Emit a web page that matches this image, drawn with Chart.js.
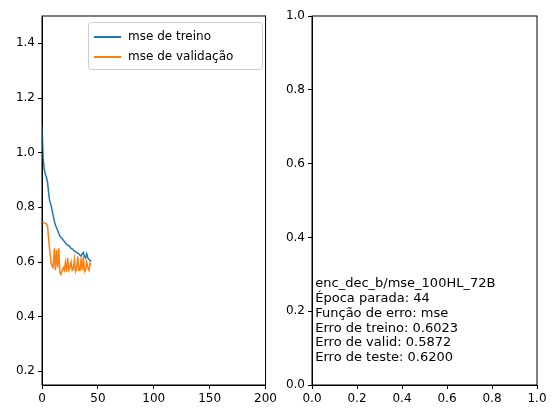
<!DOCTYPE html><html><head><script src="https://cdn.jsdelivr.net/npm/chart.js@4"></script>
<style>body{margin:0;background:#fff}#a{position:absolute;left:0;top:0}#b{position:absolute;left:280px;top:0}</style></head><body>
<div id="a" style="width:280px;height:418px"><canvas id="c1"></canvas></div>
<div id="b" style="width:278px;height:418px"><canvas id="c2"></canvas></div>
<script>
const epochs=[...Array(45).keys()];
const train=[1.10,0.98,0.94,0.92,0.91,0.89,0.85,0.82,0.81,0.79,0.77,0.75,0.735,0.725,0.715,0.705,0.695,0.69,0.685,0.68,0.675,0.67,0.665,0.66,0.66,0.655,0.65,0.648,0.645,0.64,0.638,0.635,0.632,0.63,0.625,0.622,0.63,0.635,0.62,0.615,0.63,0.615,0.61,0.605,0.602];
const valid=[0.745,0.745,0.743,0.742,0.74,0.73,0.68,0.64,0.60,0.585,0.58,0.65,0.57,0.645,0.58,0.65,0.56,0.555,0.57,0.58,0.57,0.60,0.565,0.615,0.57,0.58,0.60,0.57,0.575,0.61,0.565,0.575,0.62,0.57,0.57,0.61,0.57,0.62,0.565,0.57,0.60,0.58,0.57,0.595,0.59];
const textLines=["enc_dec_b/mse_100HL_72B","Época parada: 44","Função de erro: mse","Erro de treino: 0.6023","Erro de valid: 0.5872","Erro de teste: 0.6200"];
const legendItems=[["mse de treino","#1f77b4"],["mse de validação","#ff7f0e"]];
Chart.defaults.font.family="DejaVu Sans";Chart.defaults.font.size=12;Chart.defaults.color="#000";
const ax=(min,max,ticksArr,fix,dec)=>({type:'linear',min,max,afterFit:fix,afterBuildTicks:s=>{s.ticks=ticksArr.map(v=>({value:v}))},
 grid:{display:true,drawOnChartArea:false,tickLength:4,color:'#000'},border:{color:'#000'},ticks:{color:'#000',autoSkip:false,maxRotation:0,padding:3,callback:v=>dec?v.toFixed(dec):String(v)}});
const frame={id:'f',afterDraw(ch){const c=ch.ctx,a=ch.chartArea;c.save();c.strokeStyle='#000';c.lineWidth=1;c.strokeRect(a.left,a.top,a.right-a.left,a.bottom-a.top);c.restore();}};
const legend={id:'lg',afterDraw(ch){const c=ch.ctx;c.save();c.fillStyle='rgba(255,255,255,0.8)';c.strokeStyle='#ccc';c.lineWidth=1;
 c.beginPath();c.roundRect(88.5,22.5,174,47,3);c.fill();c.stroke();c.font='12px DejaVu Sans';c.textBaseline='middle';
 legendItems.forEach(([t,col],i)=>{const y=37+i*20;c.strokeStyle=col;c.lineWidth=2;c.beginPath();c.moveTo(94,y);c.lineTo(121,y);c.stroke();c.fillStyle='#000';c.fillText(t,128,y);});c.restore();}};
new Chart(c1,{type:'line',data:{datasets:[
{label:'mse de treino',data:epochs.map((e,i)=>({x:e,y:train[i]})),borderColor:'#1f77b4',borderWidth:1.5,pointRadius:0},
{label:'mse de validação',data:epochs.map((e,i)=>({x:e,y:valid[i]})),borderColor:'#ff7f0e',borderWidth:1.5,pointRadius:0}]},
plugins:[frame,legend],
options:{animation:false,responsive:true,maintainAspectRatio:false,layout:{padding:{top:16,right:13,bottom:0,left:0}},
scales:{x:ax(0,200,[0,50,100,150,200],s=>{s.height=33},0),y:ax(0.15,1.5,[0.2,0.4,0.6,0.8,1.0,1.2,1.4],s=>{s.width=42},1)},
plugins:{legend:{display:false},tooltip:{enabled:false}}}});
new Chart(c2,{type:'line',data:{datasets:[]},plugins:[frame,{id:'t',afterDraw(ch){const c=ch.ctx;c.save();c.font='13px DejaVu Sans';c.fillStyle='#000';
textLines.forEach((l,i)=>c.fillText(l,ch.scales.x.getPixelForValue(0.01)+1,ch.scales.y.getPixelForValue(0.276)+4+i*14.8));c.restore();}}],
options:{animation:false,responsive:true,maintainAspectRatio:false,layout:{padding:{top:16,right:21,bottom:0,left:0}},
scales:{x:ax(0,1,[0,0.2,0.4,0.6,0.8,1],s=>{s.height=33},1),y:ax(0,1,[0,0.2,0.4,0.6,0.8,1],s=>{s.width=32},1)},plugins:{legend:{display:false},tooltip:{enabled:false}}}});
</script></body></html>
